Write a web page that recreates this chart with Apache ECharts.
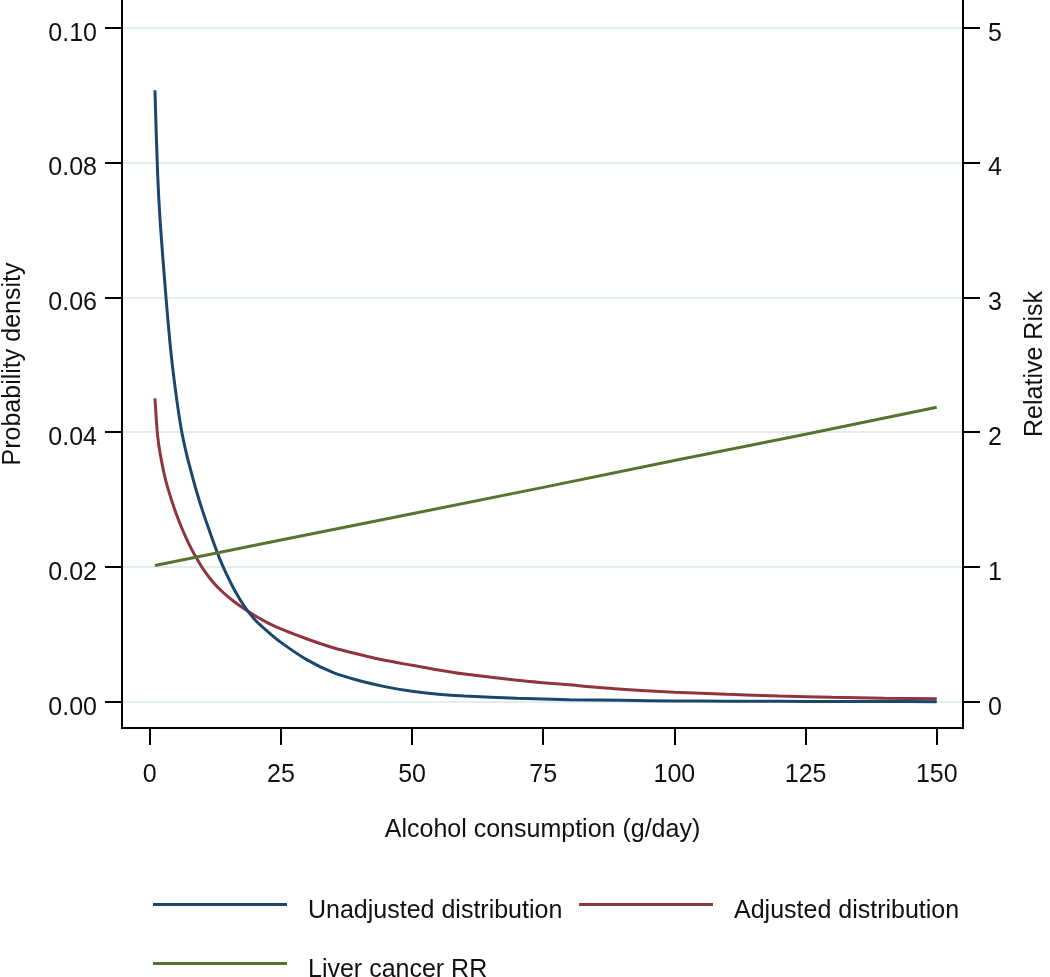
<!DOCTYPE html>
<html><head><meta charset="utf-8">
<script src="https://cdn.jsdelivr.net/npm/echarts@6/dist/echarts.min.js"></script>
<style>html,body{margin:0;padding:0;background:#fff}#c{width:1050px;height:977px}</style>
</head><body><div id="c"></div>
<script>
// ---- data ----
const xUnadj = [1,1.5,2,3,4,5,6,7,8,9,10,11,12,13,14,16,18,20,22.5,25,30,35,40,45,50,55,60,70,80,90,100,110,120,130,140,150];
const unadjusted = [0.0907,0.0785,0.0712,0.0610,0.0522,0.0457,0.0405,0.0368,0.0338,0.0310,0.0285,0.0262,0.0240,0.0219,0.0200,0.0168,0.0142,0.0122,0.0104,0.0088,0.0062,0.0043,0.0031,0.0022,0.00155,0.00112,0.00085,0.0005,0.0003,0.0002,0.00012,0.00008,0.00005,0.00003,0.00002,0.00001];
const xAdj = [1,1.5,2,3,4,5,6,7,8,9,10,12,14,16,18,20,22.5,25,30,35,40,45,50,55,60,70,80,90,100,110,120,130,140,150];
const adjusted = [0.0450,0.0395,0.0368,0.0330,0.0303,0.0280,0.0260,0.0242,0.0226,0.0212,0.0199,0.0178,0.0162,0.0149,0.0138,0.0128,0.0117,0.0108,0.0093,0.0080,0.0070,0.0061,0.0054,0.0047,0.0041,0.0032,0.0025,0.00185,0.0014,0.0011,0.00085,0.00066,0.00053,0.00045];
const xRR = [1,25,50,75,100,125,150];
const liverRR = [1.01,1.20,1.395,1.59,1.79,1.985,2.184];
const xTicks = [0,25,50,75,100,125,150];
const densityTicks = [0,0.02,0.04,0.06,0.08,0.10];
const rrTicks = [0,1,2,3,4,5];
const seriesNames = ['Unadjusted distribution','Adjusted distribution','Liver cancer RR'];

const FONT = "'Liberation Sans', Arial, sans-serif";
const TXT = '#111';
const zip = (xs, ys) => xs.map((x, i) => [x, ys[i]]);
const axisLineStyle = { color: '#000', width: 2 };

const chart = echarts.init(document.getElementById('c'), null, { renderer: 'canvas' });
// legend key: a 3px line at the top of a 17px-tall icon box (tiny invisible point sets the box height)
const legendBase = {
  orient: 'horizontal', icon: 'path://M0,0h134v3h-134z M0,16.99h0.01v0.01h-0.01z',
  itemWidth: 134, itemHeight: 17, padding: 0,
  textStyle: { fontFamily: FONT, fontSize: 25, color: TXT, padding: [0, 0, 0, 16] },
  selectedMode: false
};
const yLabelBase = { margin: 25, fontFamily: FONT, fontSize: 25, color: TXT, verticalAlign: 'top', lineHeight: 12 };
chart.setOption({
  animation: false,
  backgroundColor: '#fff',
  textStyle: { fontFamily: FONT },
  grid: { left: 122, right: 87, top: 0, bottom: 249, containLabel: false, outerBoundsMode: 'none' },
  legend: [
    Object.assign({}, legendBase, { data: [seriesNames[0]], left: 153, top: 899 }),
    Object.assign({}, legendBase, { data: [seriesNames[1]], left: 579, top: 899 }),
    Object.assign({}, legendBase, { data: [seriesNames[2]], left: 153, top: 958 })
  ],
  xAxis: {
    type: 'value', min: -5.28, max: 155,
    name: 'Alcohol consumption (g/day)', nameLocation: 'middle', nameGap: 90,
    nameTextStyle: { fontFamily: FONT, fontSize: 25, color: TXT },
    axisLine: { show: true, onZero: false, lineStyle: axisLineStyle },
    axisTick: { show: true, customValues: xTicks, length: 17, lineStyle: axisLineStyle },
    axisLabel: { customValues: xTicks, margin: 35, fontFamily: FONT, fontSize: 25, color: TXT },
    splitLine: { show: false }
  },
  yAxis: [
    {
      type: 'value', position: 'left', min: -0.0039, max: 0.1041,
      name: 'Probability density', nameLocation: 'middle', nameGap: 96, nameRotate: 90,
      nameTextStyle: { fontFamily: FONT, fontSize: 25, color: TXT },
      axisLine: { show: true, onZero: false, lineStyle: axisLineStyle },
      axisTick: { show: true, customValues: densityTicks, length: 17, lineStyle: axisLineStyle },
      axisLabel: Object.assign({}, yLabelBase, { customValues: densityTicks, formatter: v => Number(v).toFixed(2) }),
      splitLine: { show: true, lineStyle: { color: '#e3ecef', width: 2 } }
    },
    {
      type: 'value', position: 'right', min: -0.195, max: 5.206,
      name: 'Relative Risk', nameLocation: 'middle', nameGap: 60, nameRotate: 90,
      nameTextStyle: { fontFamily: FONT, fontSize: 25, color: TXT },
      axisLine: { show: true, onZero: false, lineStyle: axisLineStyle },
      axisTick: { show: true, customValues: rrTicks, length: 17, lineStyle: axisLineStyle },
      axisLabel: Object.assign({}, yLabelBase, { customValues: rrTicks }),
      splitLine: { show: false }
    }
  ],
  series: [
    { name: seriesNames[0], type: 'line', yAxisIndex: 0, data: zip(xUnadj, unadjusted), symbol: 'none',
      smooth: 0.3, lineStyle: { color: '#1a476f', width: 3 }, itemStyle: { color: '#1a476f' }, z: 3 },
    { name: seriesNames[1], type: 'line', yAxisIndex: 0, data: zip(xAdj, adjusted), symbol: 'none',
      smooth: 0.3, lineStyle: { color: '#90353b', width: 3 }, itemStyle: { color: '#90353b' }, z: 2 },
    { name: seriesNames[2], type: 'line', yAxisIndex: 1, data: zip(xRR, liverRR), symbol: 'none',
      lineStyle: { color: '#55752f', width: 3 }, itemStyle: { color: '#55752f' }, z: 4 }
  ]
});
</script></body></html>
